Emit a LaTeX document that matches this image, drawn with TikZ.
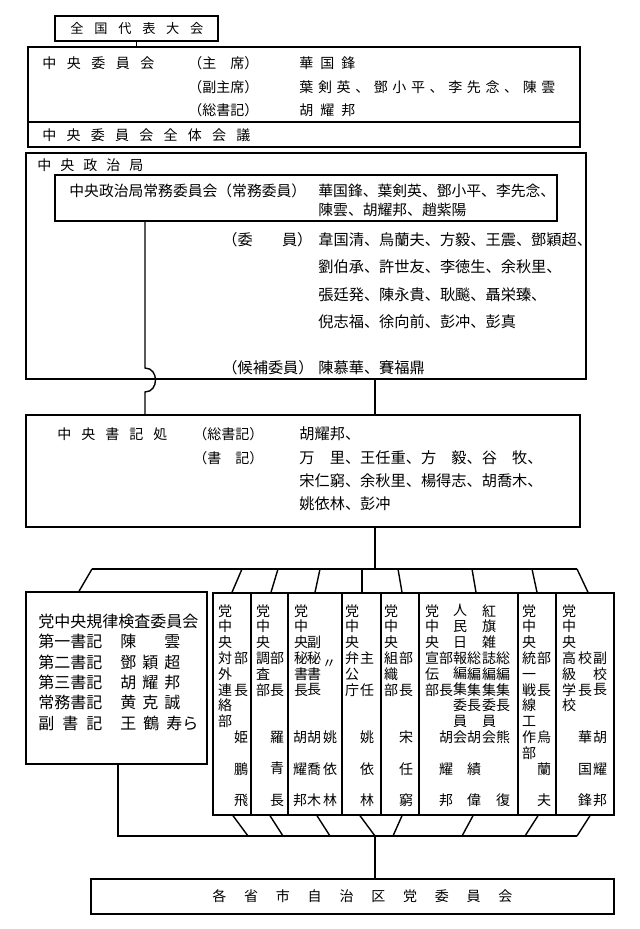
\documentclass[tikz,border=0pt]{standalone}
\usepackage{fontspec}
\setmainfont{Noto Sans CJK JP}
\usetikzlibrary{fit}

% 字間をあけた横組み（幅は px）
\newcommand\wide[2]{\makebox[\dimexpr#1pt/2\relax][s]{#2}}

\tikzset{
  frame/.style={draw, line width=0.7pt, inner sep=0pt, fit={#1}},
  link/.style={line width=0.7pt},
  lbl/.style={anchor=west, inner sep=0pt, font=\fontsize{7}{8}\selectfont},
  big/.style={lbl, font=\fontsize{7.6}{9}\selectfont},
  kl/.style={lbl, font=\fontsize{8}{9}\selectfont},
  tate/.style={anchor=north, inner sep=0pt, align=center,
    font=\fontsize{7}{7.9}\selectfont},
}

\begin{document}
\begin{tikzpicture}[x=0.5pt, y=-0.5pt]
  \useasboundingbox (0,0) rectangle (639,929);

  % 全国代表大会・中央委員会
  \node[frame={(55,16) (218,41)}] (taikai) {};
  \node[lbl, font=\fontsize{6.6}{8}\selectfont] (taikaiT) at (70,29) {\wide{133}{全 国 代 表 大 会}};
  \node[frame={(28,47) (580,122)}] (cc) {};
  \node[frame={(28,122) (580,147)}] (plenum) {};
  \draw[link] (taikai.south) -- (taikai.south |- cc.north);
  \node[lbl] (ccT) at (42,63) {\wide{112}{中 央 委 員 会}};
  \node[lbl] (ccR1) at (188,63) {\wide{70}{（主 席）}};
  \node[lbl] (ccR2) at (188,87) {（副主席）};
  \node[lbl] (ccR3) at (188,110) {（総書記）};
  \node[lbl] (ccN1) at (299,63) {\wide{56}{華 国 鋒}};
  \node[lbl] (ccN2) at (299,87) {\wide{256}{葉 剣 英 、 鄧 小 平 、 李 先 念 、 陳 雲}};
  \node[lbl] (ccN3) at (299,110) {\wide{56}{胡 耀 邦}};
  \node[lbl] (plenumT) at (42,135) {\wide{208}{中 央 委 員 会 全 体 会 議}};

  % 中央政治局
  \node[frame={(26,153) (586,379)}] (poli) {};
  \node[lbl] (poliT) at (37,165) {\wide{106}{中 央 政 治 局}};
  \node[frame={(55,175) (557,221)}] (psc) {};
  \node[lbl, font=\fontsize{7.4}{9}\selectfont] (pscT) at (69,191) {中央政治局常務委員会（常務委員）};
  \node[lbl, font=\fontsize{7.4}{9}\selectfont] (pscN1) at (318,191) {華国鋒、葉剣英、鄧小平、李先念、};
  \node[lbl, font=\fontsize{7.4}{9}\selectfont] (pscN2) at (318,210) {陳雲、胡耀邦、趙紫陽};
  \node[big] (memR) at (222,240) {\wide{90}{（委 員）}};
  \node[big] (memN1) at (318,240) {韋国清、烏蘭夫、方毅、王震、鄧穎超、};
  \node[big] (memN2) at (318,267) {劉伯承、許世友、李徳生、余秋里、};
  \node[big] (memN3) at (318,295) {張廷発、陳永貴、耿飈、聶栄臻、};
  \node[big] (memN4) at (318,322) {倪志福、徐向前、彭冲、彭真};
  \node[big] (altR) at (222,368) {（候補委員）};
  \node[big] (altN) at (318,368) {陳慕華、賽福鼎};

  % 中央書記処
  \node[frame={(26,415) (580,527)}] (sec) {};
  \node[lbl] (secT) at (57,434) {\wide{110}{中 央 書 記 処}};
  \node[lbl] (secR1) at (193,434) {（総書記）};
  \node[lbl] (secR2) at (193,458) {\wide{70}{（書 記）}};
  \node[big] (secN1) at (299,434) {胡耀邦、};
  \node[big] (secN2) at (299,458) {万　里、王任重、方　毅、谷　牧、};
  \node[big] (secN3) at (299,481) {宋仁窮、余秋里、楊得志、胡喬木、};
  \node[big] (secN4) at (299,504) {姚依林、彭冲};

  \coordinate (hop) at (145,379);
  \coordinate (spine) at (375,0);
  \draw[link] (psc.south -| hop) -- (145,368) .. controls (159,368) and (159,392) .. (145,392) -- (sec.north -| hop);
  \draw[link] (poli.south -| spine) -- (sec.north -| spine);

  % 下部の各機関
  \node[frame={(26,592) (207,764)}] (kiritsu) {};
  \node[frame={(213,593) (251,815)}] (col1) {};
  \node[frame={(251,593) (288,815)}] (col2) {};
  \node[frame={(288,593) (342,815)}] (col3) {};
  \node[frame={(342,593) (381,815)}] (col4) {};
  \node[frame={(381,593) (419,815)}] (col5) {};
  \node[frame={(419,593) (518,815)}] (col6) {};
  \node[frame={(518,593) (556,815)}] (col7) {};
  \node[frame={(556,593) (614,815)}] (col8) {};

  \coordinate (busL) at (92,569);
  \coordinate (busR) at (577,569);
  \draw[link] (sec.south -| spine) -- (spine |- busL);
  \draw[link] (busL) -- (busR);
  \draw[link] (busL) -- (79,0 |- kiritsu.north);
  \draw[link] (242,0 |- busL) -- (232,0 |- col1.north);
  \draw[link] (278,0 |- busL) -- (271,0 |- col2.north);
  \draw[link] (320,0 |- busL) -- (315,0 |- col3.north);
  \draw[link] (362,0 |- busL) -- (362,0 |- col4.north);
  \draw[link] (398,0 |- busL) -- (402,0 |- col5.north);
  \draw[link] (472,0 |- busL) -- (476,0 |- col6.north);
  \draw[link] (532,0 |- busL) -- (537,0 |- col7.north);
  \draw[link] (busR) -- (588,0 |- col8.north);

  \node[kl] (kT) at (38,621) {党中央規律検査委員会};
  \node[kl] (kR1) at (38,641) {第一書記};
  \node[kl] (kR2) at (38,662) {第二書記};
  \node[kl] (kR3) at (38,682) {第三書記};
  \node[kl] (kR4) at (38,702) {常務書記};
  \node[kl] (kR5) at (38,723) {\wide{64}{副 書 記}};
  \node[kl] (kN1) at (120,641) {\wide{60}{陳 雲}};
  \node[kl] (kN2) at (120,662) {\wide{60}{鄧 穎 超}};
  \node[kl] (kN3) at (120,682) {\wide{60}{胡 耀 邦}};
  \node[kl] (kN4) at (120,702) {\wide{60}{黄 克 誠}};
  \node[kl] (kN5) at (120,723) {\wide{78}{王 鶴 寿ら}};

  % 縦書きの列
  \node[tate] (c1a) at (225,604) {党\\中\\央\\対\\外\\連\\絡\\部};
  \node[tate] (c1b) at (241,651.4) {部\\ \\長};
  \node[tate] (c1n) at (241,730.4) {姫\\ \\鵬\\ \\飛};
  \node[tate] (c2a) at (263,604) {党\\中\\央\\調\\査\\部};
  \node[tate] (c2b) at (277,651.4) {部\\ \\長};
  \node[tate] (c2n) at (277,730.4) {羅\\ \\青\\ \\長};
  \node[tate] (c3a) at (301,604) {党\\中\\央\\秘\\書\\長};
  \node[tate] (c3b) at (314,635.6) {副\\秘\\書\\長};
  \node[lbl, anchor=center] (c3c) at (329,664) {〃};
  \node[tate] (c3n1) at (300,730.4) {胡\\ \\耀\\ \\邦};
  \node[tate] (c3n2) at (314,730.4) {胡\\ \\喬\\ \\木};
  \node[tate] (c3n3) at (330,730.4) {姚\\ \\依\\ \\林};
  \node[tate] (c4a) at (352,604) {党\\中\\央\\弁\\公\\庁};
  \node[tate] (c4b) at (367,651.4) {主\\ \\任};
  \node[tate] (c4n) at (367,730.4) {姚\\ \\依\\ \\林};
  \node[tate] (c5a) at (391,604) {党\\中\\央\\組\\織\\部};
  \node[tate] (c5b) at (406,651.4) {部\\ \\長};
  \node[tate] (c5n) at (406,730.4) {宋\\ \\任\\ \\窮};
  \node[tate] (c6a) at (432,604) {党\\中\\央\\宣\\伝\\部};
  \node[tate] (c6b) at (446,651.4) {部\\ \\長};
  \node[tate] (c6c) at (460,604) {人\\民\\日\\報\\編\\集\\委\\員\\会};
  \node[tate] (c6d) at (474,651.4) {総\\編\\集\\長};
  \node[tate] (c6e) at (489,604) {紅\\旗\\雑\\誌\\編\\集\\委\\員\\会};
  \node[tate] (c6f) at (503,651.4) {総\\編\\集\\長};
  \node[tate] (c6n1) at (446,730.4) {胡\\ \\耀\\ \\邦};
  \node[tate] (c6n2) at (474,730.4) {胡\\ \\績\\ \\偉};
  \node[tate] (c6n3) at (503,730.4) {熊\\ \\ \\ \\復};
  \node[tate] (c7a) at (529,604) {党\\中\\央\\統\\一\\戦\\線\\工\\作\\部};
  \node[tate] (c7b) at (544,651.4) {部\\ \\長};
  \node[tate] (c7n) at (544,730.4) {烏\\ \\蘭\\ \\夫};
  \node[tate] (c8a) at (569,604) {党\\中\\央\\高\\級\\学\\校};
  \node[tate] (c8b) at (585,651.4) {校\\ \\長};
  \node[tate] (c8c) at (600,651.4) {副\\校\\長};
  \node[tate] (c8n1) at (585,730.4) {華\\ \\国\\ \\鋒};
  \node[tate] (c8n2) at (600,730.4) {胡\\ \\耀\\ \\邦};

  % 各省市自治区
  \coordinate (botL) at (118,836);
  \coordinate (botR) at (577,836);
  \draw[link] (kiritsu.south -| botL) -- (botL) -- (botR);
  \draw[link] (233,0 |- col1.south) -- (248,0 |- botL);
  \draw[link] (270,0 |- col2.south) -- (283,0 |- botL);
  \draw[link] (317,0 |- col3.south) -- (330,0 |- botL);
  \draw[link] (360,0 |- col4.south) -- (spine |- botL);
  \draw[link] (402,0 |- col5.south) -- (393,0 |- botL);
  \draw[link] (473,0 |- col6.south) -- (462,0 |- botL);
  \draw[link] (538,0 |- col7.south) -- (525,0 |- botL);
  \draw[link] (590,0 |- col8.south) -- (botR);
  \node[frame={(91,879) (614,914)}] (pref) {};
  \draw[link] (spine |- botL) -- (pref.north -| spine);
  \node[lbl] (prefT) at (212,896) {\wide{300}{各 省 市 自 治 区 党 委 員 会}};
\end{tikzpicture}
\end{document}
